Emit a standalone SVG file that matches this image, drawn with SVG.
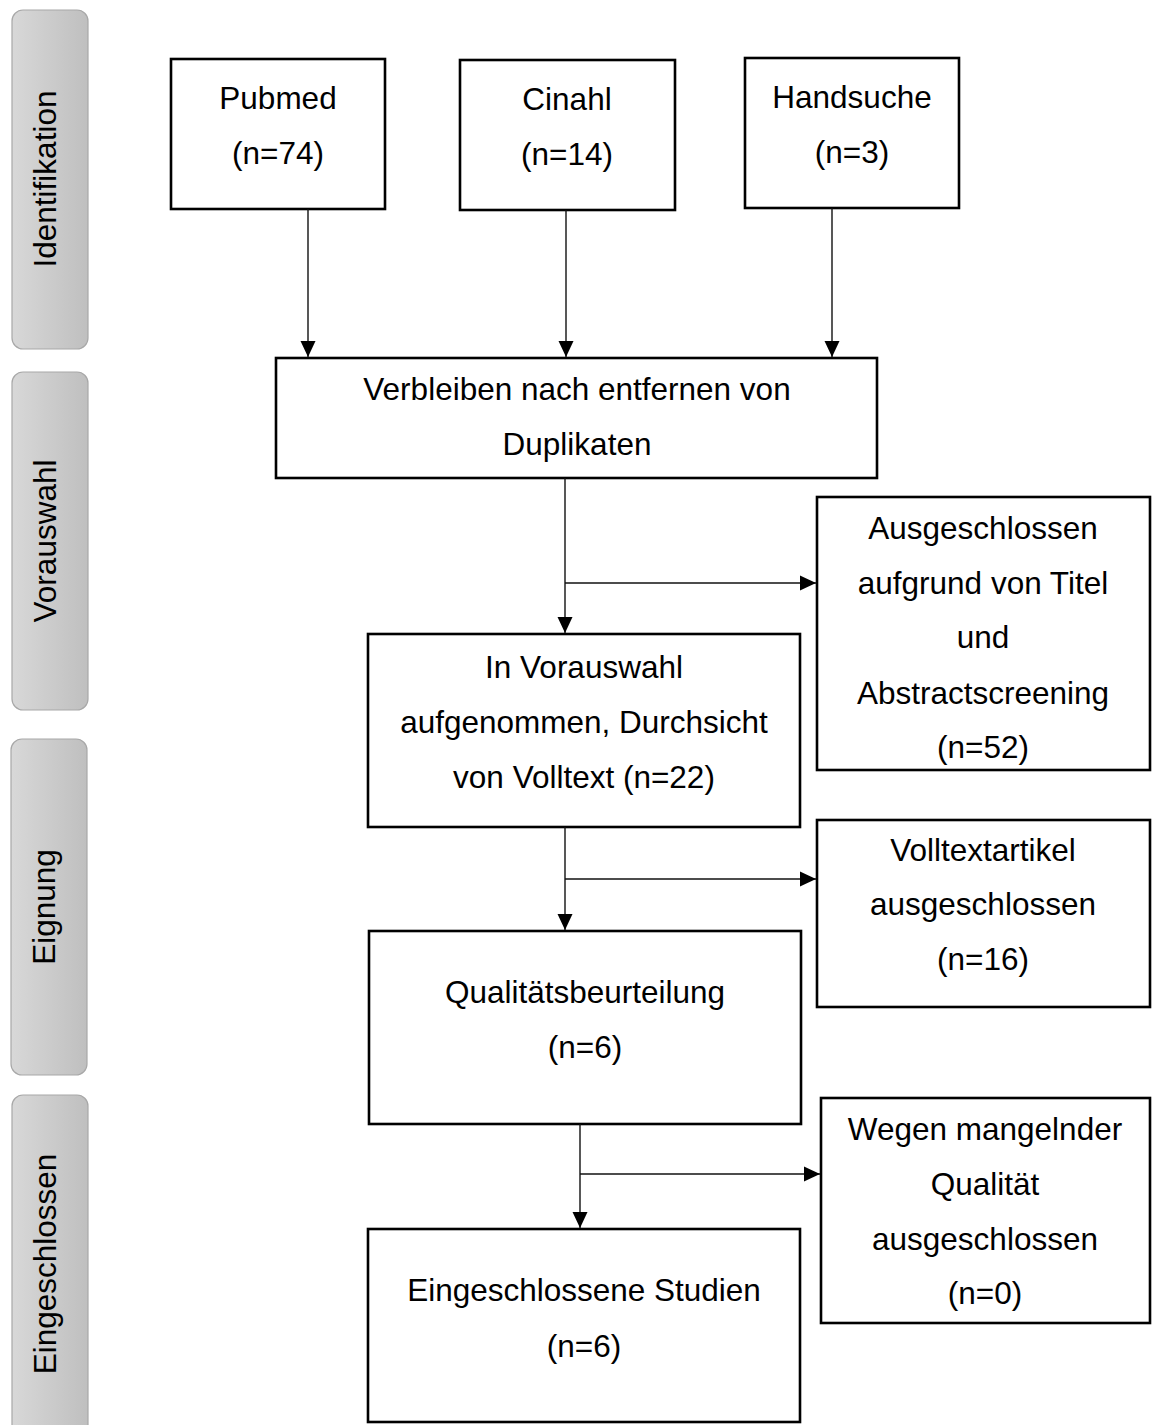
<svg xmlns="http://www.w3.org/2000/svg" width="1152" height="1425" viewBox="0 0 1152 1425">
<defs>
  <linearGradient id="barGrad" x1="0" y1="0" x2="1" y2="0">
    <stop offset="0" stop-color="#d8d8d8"/>
    <stop offset="1" stop-color="#bfbfbf"/>
  </linearGradient>
  <marker id="arrow" markerUnits="userSpaceOnUse" markerWidth="16" markerHeight="15" refX="16" refY="7.5" orient="auto" overflow="visible">
    <path d="M0,0 L16,7.5 L0,15 z" fill="#000"/>
  </marker>
</defs>
<style>
  .bar { fill: url(#barGrad); stroke: #a8a8a8; stroke-width: 1.2; }
  .box { fill: #fff; stroke: #000; stroke-width: 2.6; }
  .t { font-family: "Liberation Sans", Arial, sans-serif; font-size: 31.5px; fill: #000; text-anchor: middle; }
  .conn { fill: none; stroke: #111; stroke-width: 1.4; }
</style>
<rect width="1152" height="1425" fill="#fff"/>

<g id="bar-identifikation">
  <rect class="bar" x="12" y="10" width="76" height="339" rx="11"/>
  <text class="t" transform="translate(56,179) rotate(-90)">Identifikation</text>
</g>
<g id="bar-vorauswahl">
  <rect class="bar" x="12" y="372" width="76" height="338" rx="11"/>
  <text class="t" transform="translate(56,541) rotate(-90)">Vorauswahl</text>
</g>
<g id="bar-eignung">
  <rect class="bar" x="11" y="739" width="76" height="336" rx="11"/>
  <text class="t" transform="translate(55,907) rotate(-90)">Eignung</text>
</g>
<g id="bar-eingeschlossen">
  <rect class="bar" x="12" y="1095" width="76" height="345" rx="11"/>
  <text class="t" transform="translate(56,1264) rotate(-90)">Eingeschlossen</text>
</g>

<g id="pubmed">
  <rect class="box" x="171" y="59" width="214" height="150"/>
  <text class="t" x="278" y="109">Pubmed</text>
  <text class="t" x="278" y="164">(n=74)</text>
</g>
<g id="cinahl">
  <rect class="box" x="460" y="60" width="215" height="150"/>
  <text class="t" x="567" y="110">Cinahl</text>
  <text class="t" x="567" y="165">(n=14)</text>
</g>
<g id="handsuche">
  <rect class="box" x="745" y="58" width="214" height="150"/>
  <text class="t" x="852" y="108">Handsuche</text>
  <text class="t" x="852" y="163">(n=3)</text>
</g>
<g id="duplikate">
  <rect class="box" x="276" y="358" width="601" height="120"/>
  <text class="t" x="577" y="400">Verbleiben nach entfernen von</text>
  <text class="t" x="577" y="455">Duplikaten</text>
</g>
<g id="ausgeschlossen-titel">
  <rect class="box" x="817" y="497" width="333" height="273"/>
  <text class="t" x="983" y="539">Ausgeschlossen</text>
  <text class="t" x="983" y="594">aufgrund von Titel</text>
  <text class="t" x="983" y="648">und</text>
  <text class="t" x="983" y="704">Abstractscreening</text>
  <text class="t" x="983" y="758">(n=52)</text>
</g>
<g id="vorauswahl">
  <rect class="box" x="368" y="634" width="432" height="193"/>
  <text class="t" x="584" y="678">In Vorauswahl</text>
  <text class="t" x="584" y="733">aufgenommen, Durchsicht</text>
  <text class="t" x="584" y="788">von Volltext (n=22)</text>
</g>
<g id="volltext-ausgeschlossen">
  <rect class="box" x="817" y="820" width="333" height="187"/>
  <text class="t" x="983" y="861">Volltextartikel</text>
  <text class="t" x="983" y="915">ausgeschlossen</text>
  <text class="t" x="983" y="970">(n=16)</text>
</g>
<g id="qualitaet">
  <rect class="box" x="369" y="931" width="432" height="193"/>
  <text class="t" x="585" y="1003">Qualitätsbeurteilung</text>
  <text class="t" x="585" y="1058">(n=6)</text>
</g>
<g id="qualitaet-ausgeschlossen">
  <rect class="box" x="821" y="1098" width="329" height="225"/>
  <text class="t" x="985" y="1140">Wegen mangelnder</text>
  <text class="t" x="985" y="1195">Qualität</text>
  <text class="t" x="985" y="1250">ausgeschlossen</text>
  <text class="t" x="985" y="1304">(n=0)</text>
</g>
<g id="eingeschlossen">
  <rect class="box" x="368" y="1229" width="432" height="193"/>
  <text class="t" x="584" y="1301">Eingeschlossene Studien</text>
  <text class="t" x="584" y="1357">(n=6)</text>
</g>

<g id="connectors">
  <path class="conn" d="M308,209 V357" marker-end="url(#arrow)"/>
  <path class="conn" d="M566,210 V357" marker-end="url(#arrow)"/>
  <path class="conn" d="M832,208 V357" marker-end="url(#arrow)"/>
  <path class="conn" d="M565,478 V633" marker-end="url(#arrow)"/>
  <path class="conn" d="M565,583 H816" marker-end="url(#arrow)"/>
  <path class="conn" d="M565,827 V930" marker-end="url(#arrow)"/>
  <path class="conn" d="M565,879 H816" marker-end="url(#arrow)"/>
  <path class="conn" d="M580,1124 V1228" marker-end="url(#arrow)"/>
  <path class="conn" d="M580,1174 H820" marker-end="url(#arrow)"/>
</g>
</svg>
